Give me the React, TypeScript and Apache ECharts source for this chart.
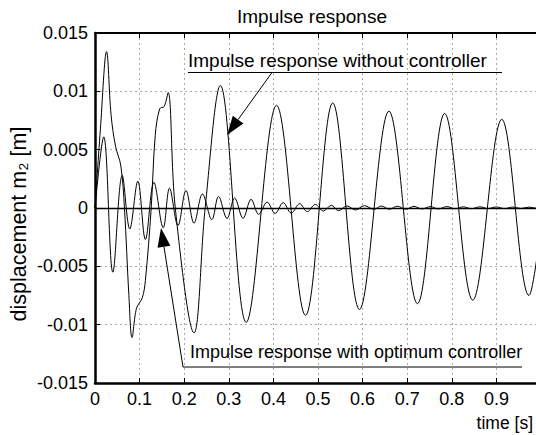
import React, { useEffect, useRef } from "react";
import * as echarts from "echarts";

const FONT = '"Liberation Sans", Arial, Helvetica, sans-serif';

// Impulse response without controller: time [s] / displacement [m]
const tNoCtrl = [0, 0.012, 0.026, 0.036, 0.046, 0.058, 0.066, 0.076, 0.083, 0.093, 0.106, 0.113, 0.126, 0.135, 0.145, 0.155, 0.164, 0.180, 0.222, 0.247, 0.281, 0.339, 0.407, 0.472, 0.533, 0.593, 0.659, 0.723, 0.784, 0.847, 0.912, 0.973, 1.0];
const yNoCtrl = [0, 0.0067, 0.0134, 0.0080, 0.0053, 0.0036, 0, -0.0075, -0.0111, -0.0086, -0.0077, -0.0062, 0, 0.0062, 0.0085, 0.0087, 0.0099, 0, -0.0107, 0, 0.0105, -0.0098, 0.0088, -0.0092, 0.0090, -0.0087, 0.0083, -0.0082, 0.0081, -0.0079, 0.0076, -0.0075, -0.0015];

// Impulse response with optimum controller
const tCtrl = [0, 0.0195, 0.040, 0.061, 0.078, 0.096, 0.113, 0.132, 0.153, 0.167, 0.186, 0.204, 0.222, 0.241, 0.262, 0.277, 0.296, 0.313, 0.332, 0.350, 0.367, 0.386, 0.404, 0.422, 0.440, 0.459, 0.476, 0.494, 0.512, 0.530, 0.546, 0.565, 0.584, 0.604, 0.625, 0.642, 0.660, 0.678, 0.697, 0.715, 0.733, 0.752, 0.770, 0.789, 0.807, 0.826, 0.844, 0.863, 0.881, 0.900, 0.918, 0.937, 0.955, 0.974, 0.992, 1.0];
const yCtrl = [0, 0.0061, -0.0055, 0.0028, -0.0018, 0.0023, -0.0027, 0.0022, -0.0017, 0.0017, -0.0015, 0.0015, -0.0013, 0.0012, -0.0010, 0.0010, -0.0009, 0.00086, -0.00088, 0.00074, -0.00054, 0.0005, -0.00046, 0.00046, -0.00044, 0.00037, -0.00031, 0.0003, -0.00026, 0.00023, -0.00023, 0.00017, -0.00017, 0.0002, -0.00011, 0.00017, -0.0001, 0.00015, -0.0001, 0.00014, -0.00008, 0.00012, -0.00008, 0.00012, -0.00006, 0.0001, -0.00006, 0.0001, -0.00005, 0.00009, -0.00005, 0.00008, -0.00004, 0.00008, -0.00004, 0];

const xMin = 0;
const xMax = 1;
const xStep = 0.1;
const yMin = -0.015;
const yMax = 0.015;
const yStep = 0.005;

const TITLE = "Impulse response";
const NOTE_NO_CTRL = "Impulse response without controller";
const NOTE_CTRL = "Impulse response with optimum controller";
const Y_NAME = "displacement m\u2082 [m]";
const X_NAME = "time [s]";

function arrowEls(x1: number, y1: number, x2: number, y2: number) {
  const dx = x1 - x2;
  const dy = y1 - y2;
  const len = Math.hypot(dx, dy);
  const ux = dx / len;
  const uy = dy / len;
  const hl = 19;
  const hw = 6.5;
  const bx = x2 + ux * hl;
  const by = y2 + uy * hl;
  const px = -uy * hw;
  const py = ux * hw;
  return [
    { type: "line", z: 100, shape: { x1, y1, x2: bx, y2: by }, style: { stroke: "#000", lineWidth: 1 } },
    {
      type: "polygon",
      z: 100,
      shape: { points: [[x2, y2], [bx + px, by + py], [bx - px, by - py]] },
      style: { fill: "#000" },
    },
  ];
}

function textEl(text: string, x: number, y: number, size: number, align: string, extra: any = {}) {
  return {
    type: "text",
    z: 100,
    x,
    y,
    ...extra,
    style: {
      text,
      font: `${size}px ${FONT}`,
      fill: "#000",
      align,
      textAlign: align,
      verticalAlign: "middle",
      textVerticalAlign: "middle",
    },
  };
}

export default function App() {
  const ref = useRef<HTMLDivElement>(null);
  useEffect(() => {
    document.body.style.margin = "0";
    const chart = echarts.init(ref.current!, null, { renderer: "svg" });
    const axisText = { color: "#000", fontSize: 18, fontFamily: FONT };
    const split = { show: true, lineStyle: { color: "#aaaaaa", type: [2, 3], width: 1 } };
    const option: any = {
      animation: false,
      backgroundColor: "#fff",
      grid: { left: 95, top: 33, right: -5, bottom: 52, outerBoundsMode: "none", containLabel: false },
      xAxis: [
        {
          type: "value",
          min: xMin,
          max: xMax,
          interval: xStep,
          position: "bottom",
          axisLine: { show: true, onZero: false, lineStyle: { color: "#000", width: 2.5 } },
          axisTick: { show: true, inside: true, length: 5, lineStyle: { color: "#000", width: 1 } },
          axisLabel: { ...axisText, margin: 7, showMinLabel: true, showMaxLabel: true },
          splitLine: split,
        },
        {
          type: "value",
          min: xMin,
          max: xMax,
          interval: xStep,
          position: "top",
          axisLine: { show: true, onZero: false, lineStyle: { color: "#000", width: 2 } },
          axisTick: { show: true, inside: true, length: 5, lineStyle: { color: "#000", width: 1 } },
          axisLabel: { show: false },
          splitLine: { show: false },
        },
      ],
      yAxis: {
        type: "value",
        min: yMin,
        max: yMax,
        interval: yStep,
        axisLine: { show: true, onZero: false, lineStyle: { color: "#000", width: 2.5 } },
        axisTick: { show: true, inside: true, length: 5, lineStyle: { color: "#000", width: 1 } },
        axisLabel: { ...axisText, margin: 7, showMinLabel: true, showMaxLabel: true },
        splitLine: split,
      },
      series: [
        {
          name: NOTE_NO_CTRL,
          type: "line",
          xAxisIndex: 0,
          data: tNoCtrl.map((t, i) => [t, yNoCtrl[i]]),
          symbol: "none",
          smooth: 0.36,
          lineStyle: { color: "#000", width: 1 },
          z: 3,
          markLine: {
            silent: true,
            symbol: ["none", "none"],
            label: { show: false },
            lineStyle: { color: "#000", type: "solid", width: 1.3 },
            data: [{ yAxis: 0 }],
          },
        },
        {
          name: NOTE_CTRL,
          type: "line",
          xAxisIndex: 0,
          data: tCtrl.map((t, i) => [t, yCtrl[i]]),
          symbol: "none",
          smooth: 0.36,
          lineStyle: { color: "#000", width: 1 },
          z: 3,
        },
      ],
      graphic: [
        textEl(TITLE, 312, 16, 19, "center"),
        textEl(NOTE_NO_CTRL, 188, 60, 19, "left"),
        { type: "line", z: 100, shape: { x1: 188, y1: 72.5, x2: 502, y2: 72.5 }, style: { stroke: "#000", lineWidth: 1 } },
        ...arrowEls(272, 72.5, 227, 135),
        textEl(NOTE_CTRL, 190, 352, 18, "left"),
        { type: "line", z: 100, shape: { x1: 183, y1: 367, x2: 522, y2: 367 }, style: { stroke: "#000", lineWidth: 1 } },
        ...arrowEls(183, 367, 161, 228),
        textEl(X_NAME, 533, 423, 17.5, "right"),
        textEl(Y_NAME, 19, 224, 21.5, "center", { rotation: Math.PI / 2 }),
      ],
    };
    chart.setOption(option);
    return () => chart.dispose();
  }, []);
  return <div ref={ref} style={{ width: 536, height: 435 }} />;
}
